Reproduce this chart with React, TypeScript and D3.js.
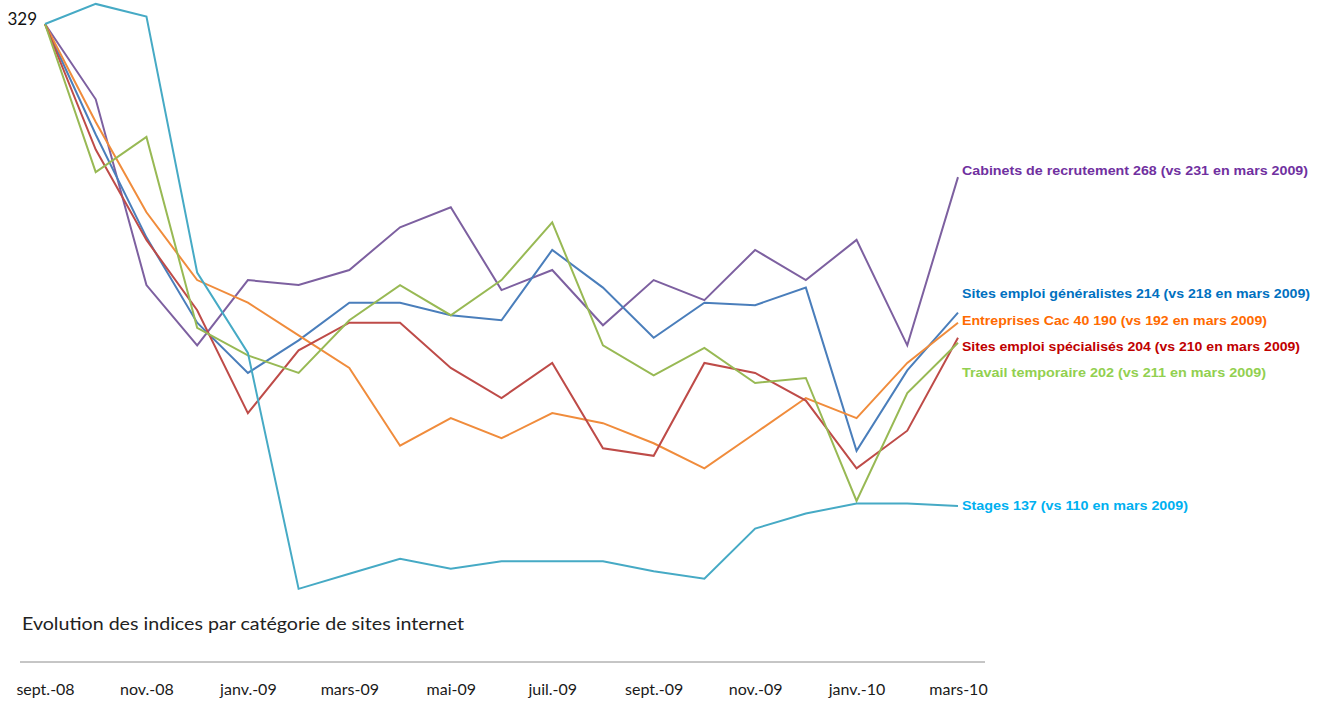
import React, { useRef, useEffect } from 'react';
import { select, scalePoint, scaleLinear, line, axisBottom } from 'd3';

const width = 1325;
const height = 705;

const months = [
    'sept.-08', 'oct.-08', 'nov.-08', 'déc.-08', 'janv.-09', 'févr.-09', 'mars-09',
    'avr.-09', 'mai-09', 'juin-09', 'juil.-09', 'août-09', 'sept.-09', 'oct.-09',
    'nov.-09', 'déc.-09', 'janv.-10', 'févr.-10', 'mars-10'
];
const tickLabels = months.filter((d, i) => i % 2 === 0);

const cabinets = [329, 299, 225, 201, 227, 225, 231, 248, 256, 223, 231, 209, 227, 219, 239, 227, 243, 201, 268];
const generalistes = [329, 285, 244, 210, 190, 203, 218, 218, 213, 211, 239, 224, 204, 218, 217, 224, 159, 191, 214];
const cac40 = [329, 290, 254, 227, 218, 205, 192, 161, 172, 164, 174, 170, 162, 152, 166, 180, 172, 194, 210];
const specialises = [329, 279, 243, 215, 174, 199, 210, 210, 192, 180, 194, 160, 157, 194, 190, 179, 152, 167, 204];
const temporaire = [329, 270, 284, 208, 197, 190, 211, 225, 213, 227, 250, 201, 189, 200, 186, 188, 139, 182, 202];
const stages = [329, 337, 332, 230, 198, 104, 110, 116, 112, 115, 115, 115, 111, 108, 128, 134, 138, 138, 137];

const seriesNames = [
    'Cabinets de recrutement  268 (vs 231 en mars  2009)',
    'Sites emploi  généralistes  214 (vs 218 en mars  2009)',
    'Entreprises Cac 40  190 (vs 192 en mars  2009)',
    'Sites emploi  spécialisés  204 (vs 210 en mars  2009)',
    'Travail temporaire  202 (vs 211 en mars  2009)',
    'Stages 137 (vs 110 en mars  2009)'
];
const seriesValues = [cabinets, generalistes, cac40, specialises, temporaire, stages];

const lineColors = ['#7D60A0', '#4A7EBB', '#F08C3C', '#BE4B48', '#98B954', '#46AAC5'];
const labelColors = ['#7030A0', '#0070C0', '#FF6A00', '#C00000', '#92D050', '#00B0F0'];
// label placement next to the last point (baseline y, text width)
const labelY = [175, 298, 325, 351, 377, 510];
const labelWidth = [346, 348, 305, 338, 304, 226];

const App = () => {
    const d3svg = useRef(null);

    useEffect(() => {
        const svg = select(d3svg.current);
        svg.selectAll('*').remove();

        const x = scalePoint().domain(months).range([45, 958]);
        const y = scaleLinear().domain([137, 329]).range([506, 24]);

        // x axis line + labels
        const axisY = 662;
        svg.append('line')
            .attr('x1', 20).attr('x2', 985)
            .attr('y1', axisY).attr('y2', axisY)
            .attr('stroke', '#8c8c8c')
            .attr('stroke-width', 1);

        const axis = svg.append('g')
            .attr('transform', `translate(0, ${axisY})`)
            .call(axisBottom(x).tickValues(tickLabels).tickSize(0).tickPadding(22));
        axis.select('.domain').remove();
        axis.selectAll('text')
            .style('font-family', 'Lato, sans-serif')
            .style('font-size', '16px')
            .attr('fill', '#1a1a1a');

        // lines
        const path = line().x((d, i) => x(months[i])).y(d => y(d));
        seriesValues.forEach((vals, s) => {
            svg.append('path')
                .datum(vals)
                .attr('fill', 'none')
                .attr('stroke', lineColors[s])
                .attr('stroke-width', 2)
                .attr('stroke-linejoin', 'miter')
                .attr('d', path);
        });

        // series labels
        svg.append('g')
            .selectAll('text')
            .data(seriesNames)
            .join('text')
            .attr('x', x(months[months.length - 1]) + 4)
            .attr('y', (d, i) => labelY[i])
            .attr('fill', (d, i) => labelColors[i])
            .attr('textLength', (d, i) => labelWidth[i])
            .attr('lengthAdjust', 'spacingAndGlyphs')
            .style('font-family', '"Liberation Sans", Arial, sans-serif')
            .style('font-weight', 'bold')
            .style('font-size', '12.5px')
            .text(d => d);

        // start value
        svg.append('text')
            .attr('x', x(months[0]) - 8)
            .attr('y', y(329) + 1)
            .attr('text-anchor', 'end')
            .style('font-family', 'Lato, sans-serif')
            .style('font-size', '17px')
            .attr('fill', '#111')
            .text('329');

        // title
        svg.append('text')
            .attr('x', 22)
            .attr('y', 630)
            .attr('textLength', 442)
            .attr('lengthAdjust', 'spacingAndGlyphs')
            .style('font-family', 'Lato, sans-serif')
            .style('font-size', '18px')
            .attr('fill', '#222')
            .text('Evolution des indices par catégorie de sites internet');
    }, []);

    return (
        <svg
            width={width}
            height={height}
            ref={d3svg}
            style={{ position: 'absolute', left: 0, top: 0, background: '#fff' }}
        ></svg>
    );
};

export default App;
